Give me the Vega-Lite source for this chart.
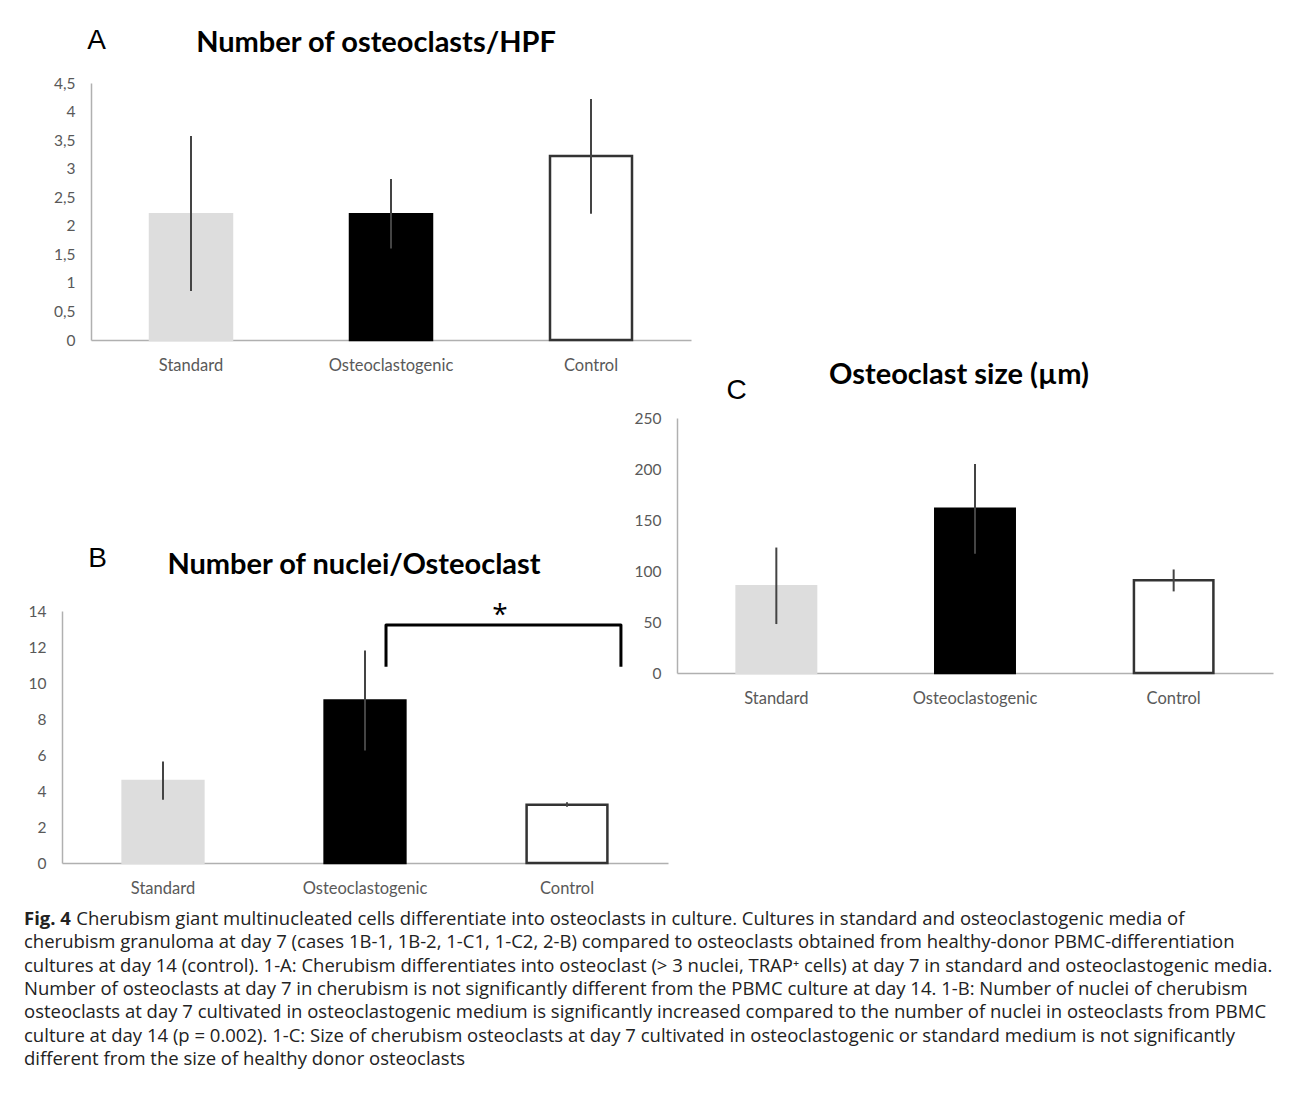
{
  "$schema": "https://vega.github.io/schema/vega-lite/v6.json",
  "padding": {"left": 24, "top": 26, "right": 5, "bottom": 5},
  "background": "#ffffff",
  "config": {
    "view": {"stroke": null},
    "font": "Lato",
    "axis": {"grid": false, "ticks": false, "tickSize": 0, "domainColor": "#b0b0b0", "domainWidth": 1.5, "labelFont": "Lato", "labelFontSize": 15.5, "labelColor": "#595959", "labelOverlap": false, "labelFlush": false, "titleFont": "Liberation Sans", "titleFontSize": 28, "titleFontWeight": "normal", "titleColor": "#000000"},
    "axisX": {"labelAngle": 0, "labelPadding": 25, "labelBaseline": "middle", "labelFontSize": 16.5},
    "axisY": {"labelPadding": 16, "titleAngle": 0, "titleAlign": "center", "titleBaseline": "middle"},
    "title": {"font": "Lato", "fontSize": 29, "fontWeight": "bold", "color": "#000000", "anchor": "middle", "frame": "group"}
  },
  "datasets": {
    "A": [
      {"group": "Standard", "value": 2.2, "lo": 0.86, "hi": 3.57},
      {"group": "Osteoclastogenic", "value": 2.2, "lo": 1.6, "hi": 2.82},
      {"group": "Control", "value": 3.22, "lo": 2.21, "hi": 4.22}
    ],
    "B": [
      {"group": "Standard", "value": 4.55, "lo": 3.52, "hi": 5.64},
      {"group": "Osteoclastogenic", "value": 9.03, "lo": 6.25, "hi": 11.81},
      {"group": "Control", "value": 3.24, "lo": 3.12, "hi": 3.38}
    ],
    "C": [
      {"group": "Standard", "value": 85, "lo": 48, "hi": 123},
      {"group": "Osteoclastogenic", "value": 161, "lo": 117, "hi": 205},
      {"group": "Control", "value": 91, "lo": 80, "hi": 101.5}
    ],
    "bracket": [
      {"o": 1, "bx": 1.604, "by": 10.9},
      {"o": 2, "bx": 1.604, "by": 13.22},
      {"o": 3, "bx": 2.767, "by": 13.22},
      {"o": 4, "bx": 2.767, "by": 10.9}
    ],
    "star": [{"bx": 2.168, "by": 13.75, "label": "*"}],
    "caption": [
      {"line": 1, "part": "bold", "text": "Fig. 4"},
      {"line": 1, "part": "first", "text": "Cherubism giant multinucleated cells differentiate into osteoclasts in culture. Cultures in standard and osteoclastogenic media of"},
      {"line": 2, "part": "body", "text": "cherubism granuloma at day 7 (cases 1B-1, 1B-2, 1-C1, 1-C2, 2-B) compared to osteoclasts obtained from healthy-donor PBMC-differentiation"},
      {"line": 3, "part": "body", "text": "cultures at day 14 (control). 1-A: Cherubism differentiates into osteoclast (> 3 nuclei, TRAP⁺ cells) at day 7 in standard and osteoclastogenic media."},
      {"line": 4, "part": "body", "text": "Number of osteoclasts at day 7 in cherubism is not significantly different from the PBMC culture at day 14. 1-B: Number of nuclei of cherubism"},
      {"line": 5, "part": "body", "text": "osteoclasts at day 7 cultivated in osteoclastogenic medium is significantly increased compared to the number of nuclei in osteoclasts from PBMC"},
      {"line": 6, "part": "body", "text": "culture at day 14 (p = 0.002). 1-C: Size of cherubism osteoclasts at day 7 cultivated in osteoclastogenic or standard medium is not significantly"},
      {"line": 7, "part": "body", "text": "different from the size of healthy donor osteoclasts"}
    ]
  },
  "bounds": "flush",
  "align": "each",
  "columns": 2,
  "spacing": {"row": 78, "column": 9},
  "concat": [
    {
      "width": 606,
      "height": 257,
      "data": {"name": "A"},
      "title": {"text": "Number of osteoclasts/HPF", "offset": -32, "dx": 11},
      "encoding": {
        "x": {"field": "group", "type": "nominal", "sort": ["Standard", "Osteoclastogenic", "Control"], "scale": {"range": [29, 629], "paddingInner": 0.59, "paddingOuter": 0.295}, "axis": {"title": null}}
      },
      "layer": [
        {
          "mark": {"type": "bar", "strokeWidth": 2.5},
          "encoding": {
            "y": {"field": "value", "type": "quantitative", "title": "A", "scale": {"domain": [0, 4.5], "nice": false}, "axis": {"values": [0, 0.5, 1, 1.5, 2, 2.5, 3, 3.5, 4, 4.5], "labelExpr": "replace(toString(datum.value), '.', ',')", "labelOverlap": false, "offset": -29, "titleX": 5, "titleY": -43}},
            "fill": {"field": "group", "type": "nominal", "legend": null, "scale": {"domain": ["Standard", "Osteoclastogenic", "Control"], "range": ["#dddddd", "#000000", "#ffffff"]}},
            "stroke": {"field": "group", "type": "nominal", "legend": null, "scale": {"domain": ["Standard", "Osteoclastogenic", "Control"], "range": ["#dddddd", "#000000", "#333333"]}}
          }
        },
        {
          "mark": {"type": "rule", "strokeWidth": 2, "color": "#444444"},
          "encoding": {
            "y": {"field": "lo", "type": "quantitative", "title": "A", "axis": {"values": [0, 0.5, 1, 1.5, 2, 2.5, 3, 3.5, 4, 4.5], "labelExpr": "replace(toString(datum.value), '.', ',')", "labelOverlap": false, "offset": -29, "titleX": 5, "titleY": -43}},
            "y2": {"field": "hi"}
          }
        }
      ]
    },
    {
      "width": 10,
      "height": 10,
      "data": {"values": [{}]},
      "mark": {"type": "text", "text": ""},
      "encoding": {}
    },
    {
      "width": 606,
      "height": 445,
      "title": {"text": "Number of nuclei/Osteoclast", "offset": -161.5, "dx": -11},
      "resolve": {"scale": {"x": "independent"}, "axis": {"x": "independent"}},
      "layer": [
        {
          "data": {"name": "B"},
          "mark": {"type": "bar", "strokeWidth": 2.5},
          "encoding": {
            "x": {"field": "group", "type": "nominal", "sort": ["Standard", "Osteoclastogenic", "Control"], "scale": {"paddingInner": 0.6, "paddingOuter": 0.3}, "axis": {"title": null}},
            "y": {"field": "value", "type": "quantitative", "title": "B", "scale": {"domain": [0, 14], "nice": false, "range": [445, 193]}, "axis": {"values": [0, 2, 4, 6, 8, 10, 12, 14], "labelOverlap": false, "titleX": 35, "titleY": 140}},
            "fill": {"field": "group", "type": "nominal", "legend": null, "scale": {"domain": ["Standard", "Osteoclastogenic", "Control"], "range": ["#dddddd", "#000000", "#ffffff"]}},
            "stroke": {"field": "group", "type": "nominal", "legend": null, "scale": {"domain": ["Standard", "Osteoclastogenic", "Control"], "range": ["#dddddd", "#000000", "#333333"]}}
          }
        },
        {
          "data": {"name": "B"},
          "mark": {"type": "rule", "strokeWidth": 2, "color": "#444444"},
          "encoding": {
            "x": {"field": "group", "type": "nominal", "sort": ["Standard", "Osteoclastogenic", "Control"], "axis": null},
            "y": {"field": "lo", "type": "quantitative", "title": "B"},
            "y2": {"field": "hi"}
          }
        },
        {
          "data": {"name": "bracket"},
          "mark": {"type": "line", "strokeWidth": 3, "color": "#000000", "strokeJoin": "round", "interpolate": "linear"},
          "encoding": {
            "x": {"field": "bx", "type": "quantitative", "scale": {"domain": [0, 3], "nice": false, "zero": false}, "axis": null},
            "y": {"field": "by", "type": "quantitative", "title": "B"},
            "order": {"field": "o"}
          }
        },
        {
          "data": {"name": "star"},
          "mark": {"type": "text", "fontSize": 28, "font": "Open Sans", "baseline": "middle", "align": "center", "color": "#000000"},
          "encoding": {
            "x": {"field": "bx", "type": "quantitative", "scale": {"domain": [0, 3], "nice": false, "zero": false}, "axis": null},
            "y": {"field": "by", "type": "quantitative", "title": "B"},
            "text": {"field": "label"}
          }
        }
      ]
    },
    {
      "width": 596,
      "height": 255,
      "data": {"name": "C"},
      "title": {"text": "Osteoclast size (µm)", "offset": -13.5, "dx": -16},
      "encoding": {
        "x": {"field": "group", "type": "nominal", "sort": ["Standard", "Osteoclastogenic", "Control"], "scale": {"paddingInner": 0.6, "paddingOuter": 0.3}, "axis": {"title": null}}
      },
      "layer": [
        {
          "mark": {"type": "bar", "strokeWidth": 2.5},
          "encoding": {
            "y": {"field": "value", "type": "quantitative", "title": "C", "scale": {"domain": [0, 250], "nice": false}, "axis": {"values": [0, 50, 100, 150, 200, 250], "labelOverlap": false, "titleX": 59, "titleY": -28}},
            "fill": {"field": "group", "type": "nominal", "legend": null, "scale": {"domain": ["Standard", "Osteoclastogenic", "Control"], "range": ["#dddddd", "#000000", "#ffffff"]}},
            "stroke": {"field": "group", "type": "nominal", "legend": null, "scale": {"domain": ["Standard", "Osteoclastogenic", "Control"], "range": ["#dddddd", "#000000", "#333333"]}}
          }
        },
        {
          "mark": {"type": "rule", "strokeWidth": 2, "color": "#444444"},
          "encoding": {
            "y": {"field": "lo", "type": "quantitative", "title": "C"},
            "y2": {"field": "hi"}
          }
        }
      ]
    },
    {
      "width": 1,
      "height": 140,
      "data": {"name": "caption"},
      "encoding": {
        "y": {"field": "line", "type": "ordinal", "axis": null, "scale": {"type": "point", "padding": 0}},
        "text": {"field": "text"}
      },
      "layer": [
        {
          "transform": [{"filter": "datum.part == 'bold'"}],
          "mark": {"type": "text", "align": "left", "baseline": "middle", "font": "Open Sans", "fontSize": 18.5, "fontWeight": "bold", "color": "#222222", "dx": -38.5, "dy": -22}
        },
        {
          "transform": [{"filter": "datum.part == 'first'"}],
          "mark": {"type": "text", "align": "left", "baseline": "middle", "font": "Open Sans", "fontSize": 18.5, "color": "#222222", "dx": 13.8, "dy": -22}
        },
        {
          "transform": [{"filter": "datum.part == 'body'"}],
          "mark": {"type": "text", "align": "left", "baseline": "middle", "font": "Open Sans", "fontSize": 18.5, "color": "#222222", "dx": -38.5, "dy": -22}
        }
      ]
    }
  ]
}
